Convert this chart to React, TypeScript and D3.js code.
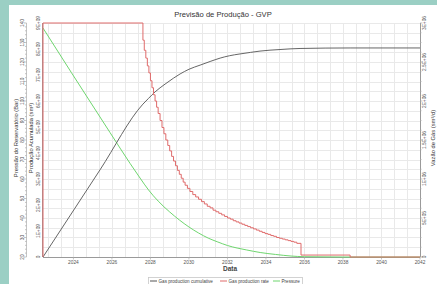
import React, { useEffect, useRef } from "react";
import * as d3 from "d3";

const W = 437;
const H = 284;

// axis ticks + labels
const yearTicks = [2024, 2026, 2028, 2030, 2032, 2034, 2036, 2038, 2040, 2042];
const pressureTicks = [20, 30, 40, 50, 60, 70, 80, 90, 100, 110, 120, 130, 140];
const cumTicks = [0, 1e9, 2e9, 3e9, 4e9, 5e9, 6e9, 7e9, 8e9, 9e9];
const cumLabels = ["0", "1E+09", "2E+09", "3E+09", "4E+09", "5E+09", "6E+09", "7E+09", "8E+09", "9E+09"];
const rateTicks = [0, 5e5, 1e6, 1.5e6, 2e6, 2.5e6, 3e6];
const rateLabels = ["0", "5E+05", "1E+06", "1.5E+06", "2E+06", "2.5E+06", "3E+06"];

// Gas production cumulative (sm3)
const cumYears = [2022.42, 2025.38, 2027.61, 2027.9, 2028.24, 2028.76, 2029.2, 2029.54, 2030.0, 2030.58, 2031.1, 2031.62, 2032.1, 2032.65, 2033.2, 2033.69, 2034.73, 2035.77, 2038.37, 2042];
const cumValues = [0, 3.35e9, 5.88e9, 6.1e9, 6.35e9, 6.65e9, 6.88e9, 7.04e9, 7.22e9, 7.38e9, 7.52e9, 7.65e9, 7.74e9, 7.81e9, 7.87e9, 7.92e9, 7.98e9, 8.02e9, 8.04e9, 8.04e9];

// Gas production rate (sm3/d), stepped
const rateYears = [
  2022.42, 2022.42, 2027.61, 2027.68, 2027.76, 2027.84, 2027.92, 2028.0, 2028.08, 2028.16,
  2028.24, 2028.32, 2028.4, 2028.5, 2028.6, 2028.7, 2028.8, 2028.9, 2029.0, 2029.1,
  2029.2, 2029.3, 2029.4, 2029.5, 2029.6, 2029.7, 2029.8, 2029.92, 2030.05, 2030.2,
  2030.35, 2030.5, 2030.65, 2030.8, 2030.95, 2031.1, 2031.25, 2031.4, 2031.55, 2031.7,
  2031.85, 2032.0, 2032.15, 2032.3, 2032.45, 2032.6, 2032.75, 2032.9, 2033.05, 2033.2,
  2033.35, 2033.5, 2033.65, 2033.8, 2033.95, 2034.1, 2034.25, 2034.4, 2034.55, 2034.7,
  2034.85, 2035.0, 2035.15, 2035.3, 2035.45, 2035.6, 2035.82, 2038.37, 2042,
];
const rateValues = [
  0, 3.0e6, 2.78e6, 2.65e6, 2.55e6, 2.45e6, 2.36e6, 2.26e6, 2.17e6, 2.08e6,
  2.0e6, 1.92e6, 1.84e6, 1.75e6, 1.66e6, 1.58e6, 1.5e6, 1.43e6, 1.36e6, 1.29e6,
  1.23e6, 1.17e6, 1.11e6, 1.06e6, 1.01e6, 9.6e5, 9.2e5, 8.8e5, 8.4e5, 8.0e5,
  7.7e5, 7.4e5, 7.1e5, 6.8e5, 6.5e5, 6.3e5, 6.0e5, 5.8e5, 5.6e5, 5.4e5,
  5.2e5, 5.0e5, 4.85e5, 4.65e5, 4.5e5, 4.35e5, 4.2e5, 4.05e5, 3.9e5, 3.75e5,
  3.6e5, 3.45e5, 3.3e5, 3.15e5, 3.0e5, 2.9e5, 2.75e5, 2.65e5, 2.5e5, 2.4e5,
  2.3e5, 2.2e5, 2.1e5, 2.0e5, 1.9e5, 1.75e5, 2.5e4, 0, 0,
];

// Pressure (bar)
const pressureYears = [2022.42, 2025.38, 2027.46, 2027.9, 2028.4, 2029.0, 2029.5, 2030.0, 2030.5, 2031.0, 2031.5, 2032.0, 2032.5, 2033.0, 2033.7, 2034.5, 2035.3, 2036.0, 2038.0, 2042];
const pressureValues = [137.4, 91.8, 60.5, 54.4, 48.7, 43.1, 39.0, 35.4, 32.3, 29.7, 27.7, 25.9, 24.6, 23.6, 22.3, 21.3, 20.5, 20.15, 20.0, 20.0];

const FONT = "'Liberation Sans', Arial, sans-serif";

export default function App() {
  const ref = useRef<SVGSVGElement>(null);

  useEffect(() => {
    const svg = d3.select(ref.current);
    svg.selectAll("*").remove();

    const margin = { top: 23, right: 420, bottom: 257, left: 43 };

    const x = d3.scaleLinear().domain([2022.42, 2042]).range([margin.left, margin.right]);
    const yP = d3.scaleLinear().domain([20, 140]).range([margin.bottom, margin.top]);
    const yC = d3.scaleLinear().domain([0, 9e9]).range([margin.bottom, margin.top]);
    const yR = d3.scaleLinear().domain([0, 3e6]).range([margin.bottom, margin.top]);

    // background
    svg.append("rect").attr("width", W).attr("height", H).attr("fill", "#9bcfc4");
    svg.append("rect").attr("x", 9).attr("y", 5).attr("width", W - 9).attr("height", H - 5).attr("fill", "#fff");

    // grid
    const grid = svg.append("g").attr("stroke", "#e9e9e9").attr("stroke-width", 1);
    d3.range(20, 141, 5).forEach((p) => {
      grid.append("line")
        .attr("x1", margin.left).attr("x2", margin.right)
        .attr("y1", Math.round(yP(p)) + 0.5).attr("y2", Math.round(yP(p)) + 0.5);
    });
    const gridYears: number[] = [];
    for (let k = 0; 2042 - (k * 2) / 3 > 2022.5; k++) gridYears.push(2042 - (k * 2) / 3);
    gridYears.forEach((yr) => {
      grid.append("line")
        .attr("x1", Math.round(x(yr)) + 0.5).attr("x2", Math.round(x(yr)) + 0.5)
        .attr("y1", margin.top).attr("y2", margin.bottom);
    });

    // axes lines
    const axisColor = "#9a9a9a";
    svg.append("line").attr("x1", margin.left).attr("x2", margin.right)
      .attr("y1", margin.bottom + 0.5).attr("y2", margin.bottom + 0.5).attr("stroke", axisColor);
    svg.append("line").attr("x1", margin.right + 0.5).attr("x2", margin.right + 0.5)
      .attr("y1", margin.top).attr("y2", margin.bottom).attr("stroke", axisColor);
    svg.append("line").attr("x1", margin.left - 0.5).attr("x2", margin.left - 0.5)
      .attr("y1", margin.top).attr("y2", margin.bottom).attr("stroke", axisColor);
    svg.append("line").attr("x1", 26.5).attr("x2", 26.5)
      .attr("y1", margin.top).attr("y2", margin.bottom).attr("stroke", "#c4c4c4");

    // minor ticks
    d3.range(20, 141, 2).forEach((p) => {
      const major = p % 10 === 0;
      svg.append("line")
        .attr("x1", 26.5).attr("x2", major ? 24 : 25)
        .attr("y1", yP(p)).attr("y2", yP(p))
        .attr("stroke", "#aaa").attr("stroke-width", 0.7);
    });
    d3.range(0, 3e6 + 1, 1.25e5).forEach((r) => {
      svg.append("line")
        .attr("x1", margin.right).attr("x2", margin.right + (r % 5e5 === 0 ? 2.5 : 1.5))
        .attr("y1", yR(r)).attr("y2", yR(r))
        .attr("stroke", "#aaa").attr("stroke-width", 0.7);
    });
    yearTicks.forEach((yr) => {
      svg.append("line")
        .attr("x1", x(yr)).attr("x2", x(yr))
        .attr("y1", margin.bottom).attr("y2", margin.bottom + 2.5)
        .attr("stroke", "#aaa").attr("stroke-width", 0.7);
    });

    // curves
    const cumLine = d3.line<number>()
      .x((i) => x(cumYears[i]))
      .y((i) => yC(cumValues[i]))
      .curve(d3.curveMonotoneX);
    const pLine = d3.line<number>()
      .x((i) => x(pressureYears[i]))
      .y((i) => yP(pressureValues[i]))
      .curve(d3.curveMonotoneX);
    const rLine = d3.line<number>()
      .x((i) => x(rateYears[i]))
      .y((i) => yR(rateValues[i]))
      .curve(d3.curveStepAfter);

    svg.append("path").attr("d", pLine(d3.range(pressureYears.length)))
      .attr("fill", "none").attr("stroke", "#6fd66f").attr("stroke-width", 1);
    svg.append("path").attr("d", cumLine(d3.range(cumYears.length)))
      .attr("fill", "none").attr("stroke", "#555").attr("stroke-width", 0.9);
    svg.append("path").attr("d", rLine(d3.range(rateYears.length)))
      .attr("fill", "none").attr("stroke", "#df6b6b").attr("stroke-width", 1);

    // tick labels
    const tickColor = "#555";
    const rotText = (cx: number, cy: number, txt: string, size: number, color: string) =>
      svg.append("text")
        .attr("transform", `translate(${cx},${cy}) rotate(-90)`)
        .attr("text-anchor", "middle")
        .attr("font-family", FONT)
        .attr("font-size", size)
        .attr("fill", color)
        .text(txt);

    pressureTicks.forEach((p) => rotText(23.5, yP(p), String(p), 4.8, tickColor));
    cumTicks.forEach((c, i) => rotText(39.5, yC(c), cumLabels[i], 4.8, tickColor));
    rateTicks.forEach((r, i) => rotText(426, yR(r), rateLabels[i], 4.8, tickColor));

    yearTicks.forEach((yr) => {
      svg.append("text")
        .attr("x", x(yr)).attr("y", 264)
        .attr("text-anchor", "middle")
        .attr("font-family", FONT).attr("font-size", 4.8)
        .attr("fill", tickColor)
        .text(String(yr));
    });

    // titles
    svg.append("text")
      .attr("x", 223).attr("y", 17)
      .attr("text-anchor", "middle")
      .attr("font-family", FONT).attr("font-size", 7.6)
      .attr("fill", "#333")
      .text("Previsão de Produção - GVP");

    svg.append("text")
      .attr("x", 230).attr("y", 271)
      .attr("text-anchor", "middle")
      .attr("font-family", FONT).attr("font-size", 6.5).attr("font-weight", "bold")
      .attr("fill", "#444")
      .text("Data");

    rotText(18, 138, "Pressão do Reservatório (Bar)", 5.8, "#333");
    rotText(33, 138, "Produção Acumulada (sm³)", 5.8, "#333");
    rotText(434.5, 138, "Vazão de Gás (sm³/d)", 5.8, "#333");

    // legend
    svg.append("rect")
      .attr("x", 148.5).attr("y", 277.5).attr("width", 154).attr("height", 9)
      .attr("fill", "#fff").attr("stroke", "#c8c8c8").attr("stroke-width", 0.8);
    const items = [
      { label: "Gas production cumulative", color: "#555", x0: 150 },
      { label: "Gas production rate", color: "#df6b6b", x0: 220 },
      { label: "Pressure", color: "#6fd66f", x0: 273 },
    ];
    items.forEach((it) => {
      svg.append("line")
        .attr("x1", it.x0).attr("x2", it.x0 + 7)
        .attr("y1", 281).attr("y2", 281)
        .attr("stroke", it.color).attr("stroke-width", 1);
      svg.append("text")
        .attr("x", it.x0 + 8.5).attr("y", 282.8)
        .attr("font-family", FONT).attr("font-size", 4.6)
        .attr("fill", "#444")
        .text(it.label);
    });
  }, []);

  return (
    <svg
      ref={ref}
      width={W}
      height={H}
      style={{ position: "absolute", left: 0, top: 0, display: "block" }}
    />
  );
}
